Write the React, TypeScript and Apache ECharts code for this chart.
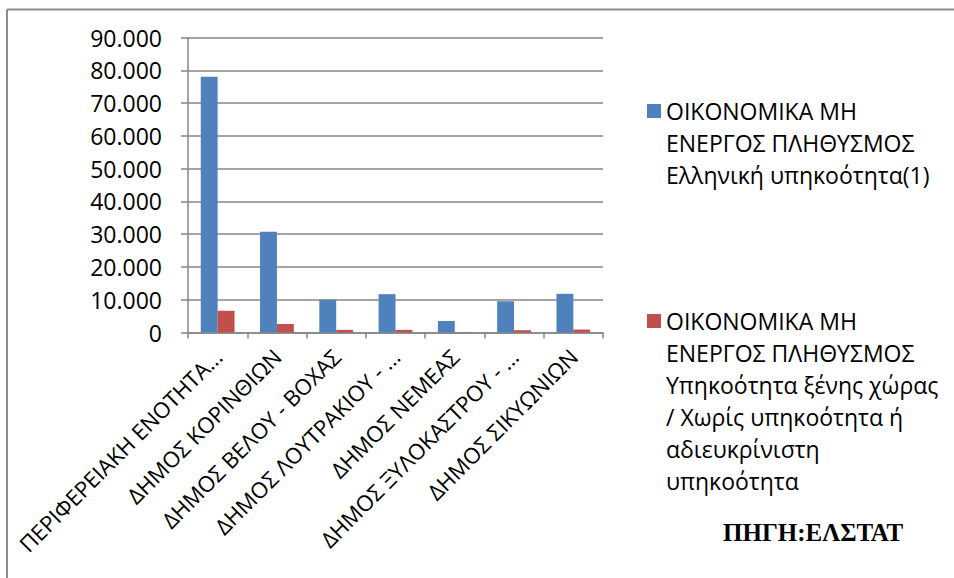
import React, { useEffect, useRef } from "react";
import * as echarts from "echarts";

const categories = [
  "ΠΕΡΙΦΕΡΕΙΑΚΗ ΕΝΟΤΗΤΑ...",
  "ΔΗΜΟΣ ΚΟΡΙΝΘΙΩΝ",
  "ΔΗΜΟΣ ΒΕΛΟΥ - ΒΟΧΑΣ",
  "ΔΗΜΟΣ ΛΟΥΤΡΑΚΙΟΥ - ...",
  "ΔΗΜΟΣ ΝΕΜΕΑΣ",
  "ΔΗΜΟΣ ΞΥΛΟΚΑΣΤΡΟΥ - ...",
  "ΔΗΜΟΣ ΣΙΚΥΩΝΙΩΝ",
];

const greekCitizenship = [78000, 30700, 10000, 11700, 3500, 9500, 11800];
const foreignCitizenship = [6600, 2600, 800, 800, 100, 700, 900];

const seriesNames = [
  "ΟΙΚΟΝΟΜΙΚΑ ΜΗ ΕΝΕΡΓΟΣ ΠΛΗΘΥΣΜΟΣ Ελληνική υπηκοότητα(1)",
  "ΟΙΚΟΝΟΜΙΚΑ ΜΗ ΕΝΕΡΓΟΣ ΠΛΗΘΥΣΜΟΣ Υπηκοότητα ξένης χώρας / Χωρίς υπηκοότητα ή αδιευκρίνιστη υπηκοότητα",
];
const legendLines = [
  ["ΟΙΚΟΝΟΜΙΚΑ ΜΗ", "ΕΝΕΡΓΟΣ ΠΛΗΘΥΣΜΟΣ", "Ελληνική υπηκοότητα(1)"],
  [
    "ΟΙΚΟΝΟΜΙΚΑ ΜΗ",
    "ΕΝΕΡΓΟΣ ΠΛΗΘΥΣΜΟΣ",
    "Υπηκοότητα ξένης χώρας",
    "/ Χωρίς υπηκοότητα ή",
    "αδιευκρίνιστη",
    "υπηκοότητα",
  ],
];
const sourceText = "ΠΗΓΗ:ΕΛΣΤΑΤ";

const yMax = 90000;
const yInterval = 10000;

const FONT = "'Open Sans', 'Noto Sans', sans-serif";
const GRAY = "#868686";
const BLUE = "#4F81BD";
const RED = "#C0504D";

function fmt(v: number): string {
  return String(Math.round(v)).replace(/\B(?=(\d{3})+(?!\d))/g, ".");
}

export default function App() {
  const ref = useRef<HTMLDivElement>(null);
  useEffect(() => {
    if (!ref.current) return;
    const chart = echarts.init(ref.current, null, { renderer: "svg" });
    const LH = 32;
    const makeLegend = (idx: number, iconTop: number) => {
      const n = legendLines[idx].length;
      // prepend blank lines so that the first text line sits beside the icon
      const padded = new Array(n - 1).fill(" ").concat(legendLines[idx]);
      const totalH = (2 * n - 1) * LH;
      return {
        show: true,
        data: [seriesNames[idx]],
        orient: "vertical",
        left: 647,
        top: iconTop + 7 - totalH / 2,
        itemWidth: 14,
        itemHeight: 14,
        icon: "rect",
        padding: 0,
        selectedMode: false,
        formatter: () => padded.join("\n"),
        textStyle: {
          fontFamily: FONT,
          fontSize: 23,
          color: "#000",
          lineHeight: LH,
        },
      };
    };
    chart.setOption({
      animation: false,
      backgroundColor: "#fff",
      grid: {
        left: 188,
        top: 37.5,
        width: 415,
        height: 295,
        containLabel: false,
        outerBoundsMode: "none",
      },
      legend: [makeLegend(0, 104), makeLegend(1, 314)],
      xAxis: {
        type: "category",
        data: categories,
        boundaryGap: true,
        axisLine: { show: true, lineStyle: { color: GRAY, width: 1.5 } },
        axisTick: { show: true, length: 6, lineStyle: { color: GRAY, width: 1.5 } },
        axisLabel: {
          interval: 0,
          rotate: 45,
          margin: 20,
          fontFamily: FONT,
          fontSize: 22,
          color: "#000",
        },
      },
      yAxis: {
        type: "value",
        min: 0,
        max: yMax,
        interval: yInterval,
        axisLine: { show: true, lineStyle: { color: GRAY, width: 1.5 } },
        axisTick: { show: true, length: 7, lineStyle: { color: GRAY, width: 1.5 } },
        splitLine: { show: true, lineStyle: { color: GRAY, width: 1.5 } },
        axisLabel: {
          margin: 26,
          fontFamily: FONT,
          fontSize: 23,
          color: "#000",
          formatter: (v: number) => fmt(v),
        },
      },
      series: [
        {
          name: seriesNames[0],
          type: "bar",
          data: greekCitizenship,
          itemStyle: { color: BLUE },
          barGap: "0%",
          barCategoryGap: "43%",
        },
        {
          name: seriesNames[1],
          type: "bar",
          data: foreignCitizenship,
          itemStyle: { color: RED },
          barGap: "0%",
          barCategoryGap: "43%",
        },
      ],
      graphic: [
        {
          type: "line",
          shape: { x1: 7, y1: 9.5, x2: 954, y2: 9.5 },
          style: { stroke: "#8c8c8c", lineWidth: 2 },
          silent: true,
        },
        {
          type: "line",
          shape: { x1: 7, y1: 9.5, x2: 7, y2: 578 },
          style: { stroke: "#8c8c8c", lineWidth: 2 },
          silent: true,
        },
        {
          type: "text",
          left: 723,
          top: 520,
          style: {
            text: sourceText,
            fontFamily: "'Liberation Serif', 'DejaVu Serif', serif",
            fontWeight: "bold",
            fontSize: 25,
            fill: "#000",
          },
        },
      ],
    });
    return () => chart.dispose();
  }, []);
  return (
    <div
      ref={ref}
      style={{ position: "absolute", left: 0, top: 0, width: 954, height: 578 }}
    />
  );
}
